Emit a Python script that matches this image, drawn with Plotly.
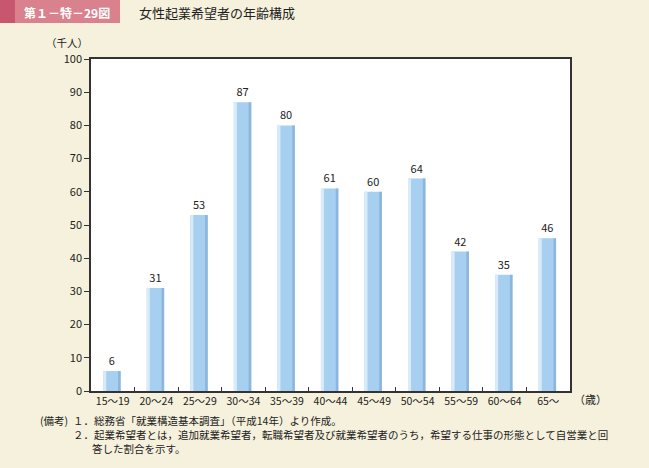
import plotly.graph_objects as go

categories = ["15～19", "20～24", "25～29", "30～34", "35～39", "40～44",
              "45～49", "50～54", "55～59", "60～64", "65～"]
values = [6, 31, 53, 87, 80, 61, 60, 64, 42, 35, 46]
y_ticks = list(range(0, 101, 10))

BG = "#f5f1dc"
FONT = "Noto Sans CJK JP"

fig = go.Figure()
# main body of bars
fig.add_trace(go.Bar(x=categories, y=values, width=0.40, offset=-0.22,
                     marker=dict(color="#a6cff0", line=dict(width=0)),
                     text=[str(v) for v in values], textposition="outside",
                     textfont=dict(size=11, color="#222", family=FONT),
                     cliponaxis=False, hoverinfo="skip"))
# left highlight strip
fig.add_trace(go.Bar(x=categories, y=values, width=0.07, offset=-0.22,
                     marker=dict(color="#d9ebf9", line=dict(width=0)),
                     hoverinfo="skip"))
# right shadow strip
fig.add_trace(go.Bar(x=categories, y=values, width=0.06, offset=0.12,
                     marker=dict(color="#8db6dc", line=dict(width=0)),
                     hoverinfo="skip"))

def px_x(x):
    return (x - 91) / 479

def px_y(y):
    return (391 - y) / 332

fig.update_layout(
    width=649, height=468,
    paper_bgcolor=BG, plot_bgcolor="white",
    margin=dict(l=91, r=79, t=59, b=77, autoexpand=False),
    barmode="overlay", showlegend=False,
    font=dict(family=FONT, size=11, color="#222"),
    xaxis=dict(type="category", tickson="boundaries", ticks="inside", ticklen=4,
               tickcolor="#333", showline=True, linecolor="#333", linewidth=1.5,
               mirror=True, showgrid=False, tickangle=0, automargin=False,
               tickfont=dict(size=10.5, color="#222"),
               range=[-0.5, 10.5]),
    yaxis=dict(range=[0, 100], tickvals=y_ticks, ticks="outside", ticklen=5,
               tickcolor="#333", showline=True, linecolor="#333", linewidth=1.5,
               mirror=True, showgrid=False, zeroline=False, automargin=False,
               tickfont=dict(size=11, color="#222")),
    shapes=[
        dict(type="rect", xref="paper", yref="paper", x0=px_x(0), x1=px_x(120),
             y0=px_y(23), y1=px_y(0), fillcolor="#d9818d", line=dict(width=0), layer="below"),
        dict(type="rect", xref="paper", yref="paper", x0=px_x(0), x1=px_x(15),
             y0=px_y(23), y1=px_y(0), fillcolor="#c9566f", line=dict(width=0), layer="below"),
    ],
    annotations=[
        dict(text="<b>第１－特－29図</b>", xref="paper", yref="paper",
             x=px_x(67), y=px_y(12), xanchor="center", yanchor="middle",
             showarrow=False, font=dict(size=12, color="white", family=FONT)),
        dict(text="女性起業希望者の年齢構成", xref="paper", yref="paper",
             x=px_x(137), y=px_y(12), xanchor="left", yanchor="middle",
             showarrow=False, font=dict(size=13, color="#222", family=FONT)),
        dict(text="（千人）", xref="paper", yref="paper",
             x=px_x(67), y=px_y(42), xanchor="center", yanchor="middle",
             showarrow=False, font=dict(size=10.5, color="#222", family=FONT)),
        dict(text="（歳）", xref="paper", yref="paper",
             x=px_x(572), y=px_y(399), xanchor="left", yanchor="middle",
             showarrow=False, font=dict(size=11, color="#222", family=FONT)),
        dict(text="(備考)", xref="paper", yref="paper",
             x=px_x(38), y=px_y(420), xanchor="left", yanchor="middle",
             showarrow=False, font=dict(size=10.5, color="#222", family=FONT)),
        dict(text="１．総務省「就業構造基本調査」（平成14年）より作成。", xref="paper", yref="paper",
             x=px_x(71), y=px_y(420), xanchor="left", yanchor="middle",
             showarrow=False, font=dict(size=10.5, color="#222", family=FONT)),
        dict(text="２．起業希望者とは，追加就業希望者，転職希望者及び就業希望者のうち，希望する仕事の形態として自営業と回",
             xref="paper", yref="paper",
             x=px_x(71), y=px_y(434), xanchor="left", yanchor="middle",
             showarrow=False, font=dict(size=10.5, color="#222", family=FONT)),
        dict(text="答した割合を示す。", xref="paper", yref="paper",
             x=px_x(90), y=px_y(448), xanchor="left", yanchor="middle",
             showarrow=False, font=dict(size=10.5, color="#222", family=FONT)),
    ],
)

fig.write_html("out.html", config={"displayModeBar": False},
               post_script="document.body.style.margin='0';document.body.style.background='#f5f1dc';")
